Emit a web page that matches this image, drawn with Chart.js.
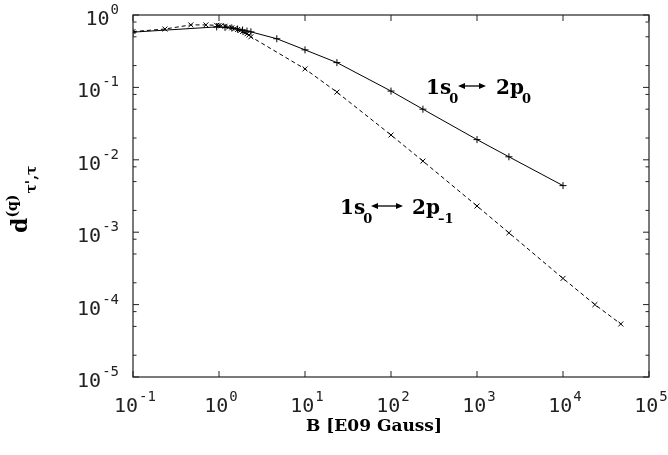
<!DOCTYPE html>
<html>
<head>
<meta charset="utf-8">
<script src="https://cdn.jsdelivr.net/npm/chart.js@4/dist/chart.umd.min.js"></script>
<style>
  html, body { margin: 0; padding: 0; background: #fff; }
  #wrap { width: 668px; height: 455px; }
</style>
</head>
<body>
<div id="wrap"><canvas id="chart" width="668" height="455"></canvas></div>
<script>
// B field values [E09 Gauss] and matrix elements for each transition
const b2p0 = [0.1, 0.94, 1.175, 1.41, 1.645, 1.88, 2.115, 2.35, 4.7, 10, 23.5, 100, 235, 1000, 2350, 10000];
const d2p0 = [0.58, 0.685, 0.675, 0.66, 0.64, 0.62, 0.60, 0.585, 0.47, 0.33, 0.22, 0.089, 0.050, 0.019, 0.011, 0.0044];

const b2pm1 = [0.1, 0.235, 0.47, 0.705, 0.94, 1.0, 1.06, 1.175, 1.29, 1.41, 1.53, 1.645, 1.76, 1.88, 2.0, 2.115, 2.23, 2.35,
  10, 23.5, 100, 235, 1000, 2350, 10000, 23500, 47000];
const d2pm1 = [0.59, 0.64, 0.73, 0.73, 0.72, 0.715, 0.71, 0.70, 0.68, 0.665, 0.65, 0.63, 0.61, 0.59, 0.57, 0.55, 0.53, 0.50,
  0.18, 0.086, 0.022, 0.0096, 0.0023, 0.00098, 0.00023, 0.000100, 0.000054];

// tick labels (decades) and minor tick factors on y
const xTickExp = [-1, 0, 1, 2, 3, 4, 5];
const yTickExp = [0, -1, -2, -3, -4, -5];
const yMinor = [2, 5, 8];

const toPoints = (xs, ys) => xs.map((x, i) => ({ x: x, y: ys[i] }));

const TICK_FONT = "20px 'DejaVu Sans Mono'";
const SUP_FONT = "14px 'DejaVu Sans Mono'";

function drawPow(ctx, exp, x, y, align) {
  // draws "10" with superscript exponent; align: 'center' or 'right'
  ctx.font = TICK_FONT;
  const w1 = ctx.measureText("10").width;
  ctx.font = SUP_FONT;
  const sup = String(exp);
  const w2 = ctx.measureText(sup).width;
  const total = w1 + w2 + 1;
  let x0 = align === "right" ? x - total : x - total / 2;
  ctx.textAlign = "left";
  ctx.textBaseline = "alphabetic";
  ctx.font = TICK_FONT;
  ctx.fillText("10", x0, y);
  ctx.font = SUP_FONT;
  ctx.fillText(sup, x0 + w1 + 1, y - 11);
}

function arrow(ctx, x1, x2, y) {
  ctx.beginPath();
  ctx.moveTo(x1 + 4, y);
  ctx.lineTo(x2 - 4, y);
  ctx.lineWidth = 1.3;
  ctx.stroke();
  ctx.beginPath();
  ctx.moveTo(x1, y); ctx.lineTo(x1 + 7, y - 3); ctx.lineTo(x1 + 7, y + 3); ctx.closePath();
  ctx.moveTo(x2, y); ctx.lineTo(x2 - 7, y - 3); ctx.lineTo(x2 - 7, y + 3); ctx.closePath();
  ctx.fill();
}

function label(ctx, x, y, sub1, sub2, x2, ax1, ax2) {
  const big = "bold 20px 'DejaVu Serif'";
  const small = "bold 13px 'DejaVu Serif'";
  ctx.textAlign = "left";
  ctx.textBaseline = "alphabetic";
  ctx.font = big;
  ctx.fillText("1s", x, y);
  const w = ctx.measureText("1s").width;
  ctx.font = small;
  ctx.fillText(sub1, x + w - 2, y + 9);
  arrow(ctx, ax1, ax2, y - 8);
  ctx.font = big;
  ctx.fillText("2p", x2, y);
  const w2 = ctx.measureText("2p").width;
  ctx.font = small;
  ctx.fillText(sub2, x2 + w2 - 2, y + 9);
}

const framePlugin = {
  id: "frame",
  afterDraw(chart) {
    const ctx = chart.ctx;
    const a = chart.chartArea;
    const xs = chart.scales.x, ys = chart.scales.y;
    ctx.save();
    ctx.strokeStyle = "#222";
    ctx.fillStyle = "#222";
    ctx.lineWidth = 1.2;
    ctx.strokeRect(a.left, a.top, a.right - a.left, a.bottom - a.top);

    // x ticks (top and bottom), labels
    ctx.lineWidth = 1;
    xTickExp.forEach((e) => {
      const px = xs.getPixelForValue(Math.pow(10, e));
      ctx.beginPath();
      ctx.moveTo(px, a.bottom); ctx.lineTo(px, a.bottom - 6);
      ctx.moveTo(px, a.top); ctx.lineTo(px, a.top + 6);
      ctx.stroke();
      drawPow(ctx, e, px + 2, a.bottom + 35, "center");
    });

    // y ticks (left and right), labels
    yTickExp.forEach((e) => {
      const py = ys.getPixelForValue(Math.pow(10, e));
      ctx.beginPath();
      ctx.moveTo(a.left, py); ctx.lineTo(a.left + 6, py);
      ctx.moveTo(a.right, py); ctx.lineTo(a.right - 6, py);
      ctx.stroke();
      drawPow(ctx, e, a.left - 14, py + 10, "right");
      if (e < 0) {
        yMinor.forEach((m) => {
          const pm = ys.getPixelForValue(m * Math.pow(10, e));
          ctx.beginPath();
          ctx.moveTo(a.left, pm); ctx.lineTo(a.left + 3.5, pm);
          ctx.moveTo(a.right, pm); ctx.lineTo(a.right - 3.5, pm);
          ctx.stroke();
        });
      }
    });

    // axis titles
    ctx.fillStyle = "#000";
    ctx.strokeStyle = "#000";
    ctx.font = "bold 17px 'DejaVu Serif'";
    ctx.textAlign = "center";
    ctx.textBaseline = "alphabetic";
    ctx.fillText("B [E09 Gauss]", 374, 431);

    ctx.save();
    ctx.translate(27, 233);
    ctx.rotate(-Math.PI / 2);
    ctx.textAlign = "left";
    ctx.font = "bold 22px 'DejaVu Serif'";
    ctx.fillText("d", 0, 0);
    let w = ctx.measureText("d").width;
    ctx.font = "bold 14px 'DejaVu Serif'";
    ctx.fillText("(q)", w, -10);
    w += ctx.measureText("(q)").width + 1;
    ctx.fillText("\u03c4',\u03c4", w, 9);
    ctx.restore();

    // transition labels
    label(ctx, 426, 94, "0", "0", 496, 458, 486);
    label(ctx, 340, 214, "0", "\u20131", 412, 371, 403);
    ctx.restore();
  }
};

new Chart(document.getElementById("chart").getContext("2d"), {
  type: "line",
  data: {
    datasets: [
      {
        label: "1s0-2p0",
        data: toPoints(b2p0, d2p0),
        borderColor: "#000",
        backgroundColor: "#000",
        borderWidth: 1,
        pointStyle: "cross",
        pointRadius: 3.5,
        pointBorderWidth: 1,
        pointBorderColor: "#000",
        tension: 0,
      },
      {
        label: "1s0-2p-1",
        data: toPoints(b2pm1, d2pm1),
        borderColor: "#000",
        backgroundColor: "#000",
        borderWidth: 1,
        borderDash: [4, 3],
        pointStyle: "crossRot",
        pointRadius: 3.5,
        pointBorderWidth: 1,
        pointBorderColor: "#000",
        tension: 0,
      },
    ],
  },
  options: {
    responsive: false,
    animation: false,
    devicePixelRatio: 1,
    layout: { padding: { left: 133, right: 19, top: 15, bottom: 78 } },
    plugins: { legend: { display: false }, tooltip: { enabled: false } },
    scales: {
      x: { type: "logarithmic", min: 0.1, max: 100000, display: false },
      y: { type: "logarithmic", min: 0.00001, max: 1, display: false },
    },
  },
  plugins: [framePlugin],
});
</script>
</body>
</html>
